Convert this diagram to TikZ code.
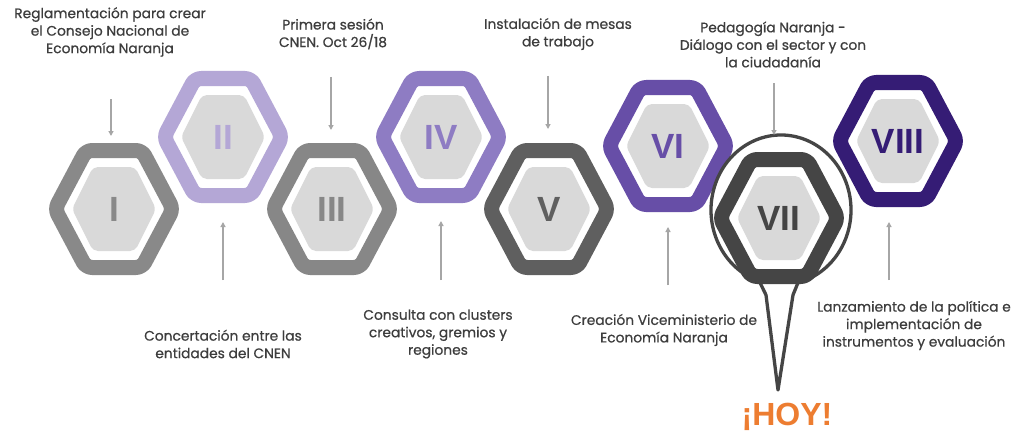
\documentclass[tikz,border=0pt]{standalone}
\usepackage{fontspec}
\setmainfont{Poppins}
\newfontfamily\descfont{Poppins}[FakeBold=0.6]
\newfontfamily\numfont{Liberation Sans}
\usetikzlibrary{arrows.meta}
\definecolor{cI}{HTML}{898989}
\definecolor{cII}{HTML}{B4A7D6}
\definecolor{cIII}{HTML}{878787}
\definecolor{cIV}{HTML}{8E7CC3}
\definecolor{cV}{HTML}{5F5F5F}
\definecolor{cVI}{HTML}{674EA7}
\definecolor{cVII}{HTML}{454545}
\definecolor{cVIII}{HTML}{351C75}
\definecolor{corefill}{HTML}{D9D9D9}
\definecolor{txt}{HTML}{3D3D3D}
\definecolor{arrowgray}{HTML}{A6A6A6}
\definecolor{hoy}{HTML}{ED7D31}
\tikzset{
  band/.style={line width=15pt, rounded corners=6pt, fill=white, line join=round},
  core/.style={fill=corefill, rounded corners=5pt},
  numlabel/.style={font=\numfont\bfseries\fontsize{35}{35}\selectfont, inner sep=0pt},
  desc/.style={font=\descfont\fontsize{13.8}{17.5}\selectfont, text=txt, align=center, inner sep=0pt},
  arr/.style={draw=arrowgray, line width=1.3pt, -{Triangle[width=5pt,length=5pt]}},
  pin/.style={draw=cVII, line width=3.3pt, fill=white, line join=round},
}
\newcommand{\hexstep}[5]{%
  \begin{scope}[shift={(#2,#3)}]
    \draw[band, draw=#4] (-59,0) -- (-28,-58.5) -- (28,-58.5) -- (59,0) -- (28,58.5) -- (-28,58.5) -- cycle;
    \fill[core] (-42,0) -- (-21,-42) -- (21,-42) -- (42,0) -- (21,42) -- (-21,42) -- cycle;
  \end{scope}
  \node[numlabel, text=#4] (#1) at (#2,#3) {#5};
}
\begin{document}
\begin{tikzpicture}[x=1pt,y=-1pt]
\useasboundingbox (0,0) rectangle (1020,436);
\fill[white] (0,0) rectangle (1020,436);

% hexagons
\hexstep{hI}{114}{209}{cI}{I}
\hexstep{hII}{223}{137}{cII}{II}
\hexstep{hIII}{332}{209}{cIII}{III}
\hexstep{hIV}{441}{137}{cIV}{IV}
\hexstep{hV}{549}{209}{cV}{V}
\hexstep{hVI}{668}{146}{cVI}{VI}
% pin around VII
\coordinate (pinc) at (781,210);
\coordinate (pintip) at (778,390);
\draw[pin] (pintip) -- (766,295) -- ([shift={(108:70 and 75)}]pinc) arc[start angle=108, end angle=436, x radius=70, y radius=75] -- (793,295) -- cycle;
\hexstep{hVII}{779}{218}{cVII}{VII}
\hexstep{hVIII}{898}{141}{cVIII}{VIII}

% descriptions
\node[desc] (t1) at (110,32) {Reglamentación para crear\\el Consejo Nacional de\\Economía Naranja};
\node[desc] (t3) at (333,34) {Primera sesión\\CNEN. Oct 26/18};
\node[desc] (t5) at (558,34) {Instalación de mesas\\de trabajo};
\node[desc] (t7) at (773,44.5) {Pedagogía Naranja -\\Diálogo con el sector y con\\la ciudadanía};
\node[desc] (t2) at (223,344) {Concertación entre las\\entidades del CNEN};
\node[desc] (t4) at (438,334) {Consulta con clusters\\creativos, gremios y\\regiones};
\node[desc] (t6) at (664,330) {Creación Viceministerio de\\Economía Naranja};
\node[desc] (t8) at (914,325.5) {Lanzamiento de la política e\\implementación de\\instrumentos y evaluación};

\node[font=\numfont\bfseries\fontsize{32}{32}\selectfont, text=hoy, anchor=base, inner sep=0pt] (hoytext) at (787,425) {¡HOY!};

% arrows
\coordinate (a1s) at (111,99);  \coordinate (a1e) at (111,136);
\coordinate (a2s) at (223,280); \coordinate (a2e) at (223,222);
\coordinate (a3s) at (331,77);  \coordinate (a3e) at (331,130);
\coordinate (a4s) at (441,280); \coordinate (a4e) at (441,221);
\coordinate (a5s) at (548,76);  \coordinate (a5e) at (548,129);
\coordinate (a6s) at (668,285); \coordinate (a6e) at (668,227);
\coordinate (a7s) at (774,83);  \coordinate (a7e) at (774,135);
\coordinate (a8s) at (889,280); \coordinate (a8e) at (889,222);
\foreach \i in {1,...,8} { \draw[arr] (a\i s) -- (a\i e); }
\end{tikzpicture}
\end{document}
